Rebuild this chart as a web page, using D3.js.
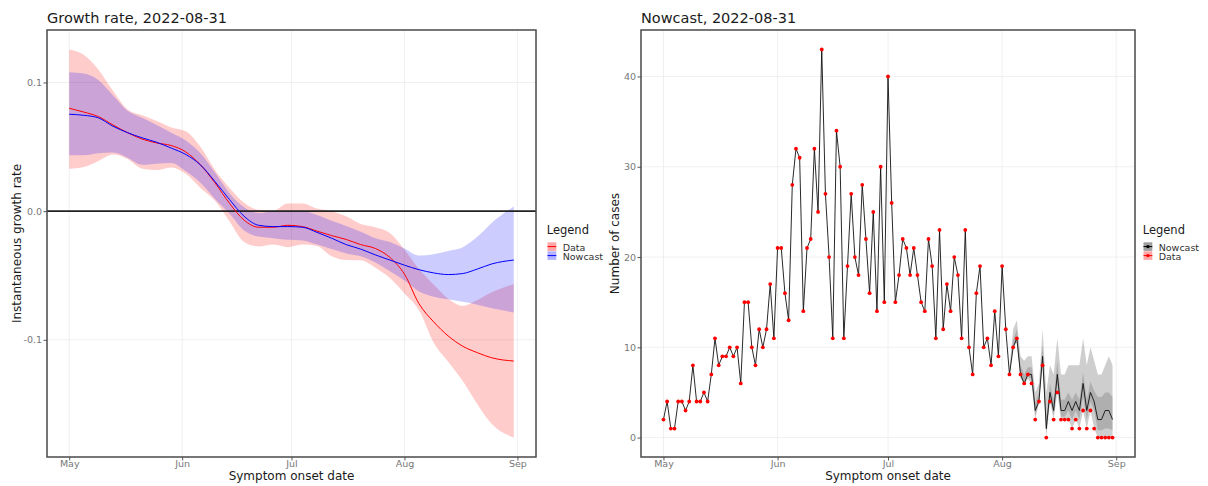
<!DOCTYPE html>
<html>
<head>
<meta charset="utf-8">
<script src="https://cdn.jsdelivr.net/npm/d3@7"></script>
<style>
  body { margin: 0; background: #ffffff; }
  svg { display: block; font-family: "DejaVu Sans", sans-serif; }
</style>
</head>
<body>
<svg id="chart" width="1208" height="486"></svg>
<script>
// ---------- growth rate: smoothed estimates at knot dates ----------
const growthDates = ["2022-05-01","2022-05-05","2022-05-09","2022-05-13","2022-05-17","2022-05-21",
  "2022-05-25","2022-05-29","2022-06-02","2022-06-06","2022-06-10","2022-06-14","2022-06-18",
  "2022-06-22","2022-06-26","2022-06-30","2022-07-04","2022-07-08","2022-07-12","2022-07-16",
  "2022-07-20","2022-07-24","2022-07-28","2022-08-01","2022-08-05","2022-08-09","2022-08-13",
  "2022-08-17","2022-08-21","2022-08-25","2022-08-31"];
const growthData = [0.080,0.077,0.0735,0.067,0.061,0.056,0.053,0.051,0.046,0.036,0.022,0.006,-0.007,
  -0.0125,-0.0125,-0.011,-0.012,-0.0155,-0.019,-0.022,-0.026,-0.029,-0.036,-0.049,-0.072,-0.086,
  -0.097,-0.105,-0.110,-0.114,-0.1165];
const growthDataUpper = [0.1257,0.1215,0.110,0.0935,0.079,0.0745,0.070,0.065,0.062,0.050,0.032,0.018,
  0.0065,0.001,0.0005,0.006,0.006,0.002,0.0,-0.004,-0.010,-0.0125,-0.017,-0.030,-0.045,-0.057,
  -0.068,-0.0735,-0.069,-0.063,-0.0566];
const growthDataLower = [0.033,0.0343,0.039,0.044,0.0405,0.033,0.032,0.034,0.029,0.018,0.008,-0.008,
  -0.024,-0.0275,-0.026,-0.028,-0.026,-0.027,-0.035,-0.038,-0.0382,-0.044,-0.052,-0.064,-0.077,
  -0.102,-0.117,-0.132,-0.150,-0.1655,-0.176];
const growthNowcast = [0.0753,0.0745,0.0725,0.066,0.061,0.057,0.0535,0.049,0.044,0.036,0.023,0.009,
  -0.004,-0.011,-0.012,-0.012,-0.0125,-0.0165,-0.021,-0.026,-0.0295,-0.034,-0.038,-0.042,-0.0455,
  -0.048,-0.0493,-0.0485,-0.045,-0.041,-0.038];
const growthNowcastUpper = [0.108,0.107,0.102,0.090,0.078,0.0725,0.067,0.061,0.055,0.045,0.030,0.014,
  0.003,-0.0015,0,0,0,-0.003,-0.0075,-0.0115,-0.016,-0.021,-0.024,-0.029,-0.0345,-0.0335,-0.031,
  -0.028,-0.020,-0.009,0.0036];
const growthNowcastLower = [0.0434,0.0434,0.045,0.0455,0.0415,0.036,0.0368,0.0374,0.031,0.022,0.0095,
  -0.002,-0.015,-0.0198,-0.021,-0.0223,-0.0228,-0.026,-0.0295,-0.033,-0.035,-0.040,-0.0468,-0.054,
  -0.0625,-0.0665,-0.0685,-0.0705,-0.0727,-0.0755,-0.0787];

// ---------- daily case counts by symptom onset, 2022-05-01 .. 2022-08-31 ----------
const caseStart = "2022-05-01";
const casesMay = [2,4,1,1,4,4,3,4,8,4,4,5,4,7,11,8,9,9,10,9,10,6,15,15,10,8,12,10,12,17,11];
const casesJun = [21,21,16,13,28,32,31,14,21,22,32,25,43,27,20,11,34,30,11,19,27,20,18,28,22,16,25,14,30,15];
const casesJul = [40,26,15,18,22,21,18,21,18,15,14,22,19,11,23,12,17,14,20,18,11,23,10,7,16,19,10,11,8,14,9];
const casesAug = [19,12,7,10,11,7,6,7,6,2,4,8,0,4,2,5,2,2,2,1,2,1,3,1,3,1,0,0,0,0,0];

// nowcast (corrected counts) for the recent days, from 2022-08-03
const nowcastStart = "2022-08-03";
const nowcastMedian = [7,10,11,7,6,7,7,3,4,9,1,5,3,7,3,3,4,3,4,3,6,3,5,4,2,2,3,3,2];
const nowcastUpper95 = [7.8,12,13,9,8.5,9,9,5,6,12,5,8,7,11,7,7,8,8,8,8,11,8,10,8.5,7,7,8,9,8];
const nowcastLower95 = [7,10,10.5,6.5,6,6.5,6,2,3.8,8,0,4,2,5,2,2,2,1,2,1,3,1,3,1,0,0,0,0,0];
const nowcastUpper50 = [7.3,10.8,12,8,7,7.8,7.8,3.8,5,10.2,2.2,6,4.2,8.5,4.2,4.2,5,4.2,5,4.2,7.2,4.2,6.2,5.2,4.5,4.5,5,5,4.5];
const nowcastLower50 = [7,10,10.8,6.8,6,6.8,6.5,2.5,4,8.5,0.5,4.3,2.5,6,2.3,2.3,3,2,3,2,4.5,2,4,3,0.8,0.8,1,1,0.8];

// ---------- axis ticks ----------
const monthTicks = ["2022-05-01","2022-06-01","2022-07-01","2022-08-01","2022-09-01"];
const monthLabels = ["May","Jun","Jul","Aug","Sep"];
const growthTicks = [-0.1, 0, 0.1];
const growthTickLabels = ["-0.1","0.0","0.1"];
const caseTicks = [0, 10, 20, 30, 40];
const caseTickLabels = ["0","10","20","30","40"];

// ---------- setup ----------
const parse = d3.utcParse("%Y-%m-%d");
const svg = d3.select("#chart");
const FONT = "DejaVu Sans, sans-serif";
const monthDates = monthTicks.map(parse);

const panelL = { x0: 47, x1: 536, y0: 30, y1: 457 };
const panelR = { x0: 641, x1: 1135, y0: 30, y1: 457 };

function expand(lo, hi) {
  const pad = (hi - lo) * 0.05;
  return [lo - pad, hi + pad];
}

const allCases = casesMay.concat(casesJun, casesJul, casesAug);
const day0 = parse(caseStart);
const caseRows = allCases.map((v, i) => ({ date: d3.utcDay.offset(day0, i), value: v }));
const tExtent = d3.extent(caseRows, d => +d.date);
const tDomain = expand(tExtent[0], tExtent[1]).map(t => new Date(t));

function drawGrid(g, p, x, y, yTicks) {
  g.append("g").selectAll("line").data(monthDates).join("line")
    .attr("x1", d => x(d)).attr("x2", d => x(d))
    .attr("y1", p.y0).attr("y2", p.y1)
    .attr("stroke", "#ececec").attr("stroke-width", 0.8);
  g.append("g").selectAll("line").data(yTicks).join("line")
    .attr("x1", p.x0).attr("x2", p.x1)
    .attr("y1", d => y(d)).attr("y2", d => y(d))
    .attr("stroke", "#ececec").attr("stroke-width", 0.8);
}

function drawAxes(g, p, x, y, yTicks, yLabels) {
  const ax = g.append("g").attr("transform", `translate(0,${p.y1})`)
    .call(d3.axisBottom(x).tickValues(monthDates)
      .tickFormat((d, i) => monthLabels[i]).tickSize(3.5).tickPadding(0));
  const ay = g.append("g").attr("transform", `translate(${p.x0},0)`)
    .call(d3.axisLeft(y).tickValues(yTicks)
      .tickFormat((d, i) => yLabels[i]).tickSize(3.5).tickPadding(1.5));
  [ax, ay].forEach(a => {
    a.attr("font-family", FONT).attr("font-size", 9.5);
    a.select(".domain").remove();
    a.selectAll(".tick line").attr("stroke", "#444").attr("stroke-width", 0.9);
    a.selectAll(".tick text").attr("fill", "#777");
  });
  // panel border
  g.append("rect")
    .attr("x", p.x0).attr("y", p.y0)
    .attr("width", p.x1 - p.x0).attr("height", p.y1 - p.y0)
    .attr("fill", "none").attr("stroke", "#4a4a4a").attr("stroke-width", 1.5);
}

function drawTitles(g, p, title, yTitle, yTitleX) {
  g.append("text").attr("x", p.x0).attr("y", 23)
    .attr("font-family", FONT).attr("font-size", 14.5).attr("fill", "#1a1a1a")
    .text(title);
  g.append("text").attr("x", (p.x0 + p.x1) / 2).attr("y", 480)
    .attr("text-anchor", "middle")
    .attr("font-family", FONT).attr("font-size", 12).attr("fill", "#1a1a1a")
    .text("Symptom onset date");
  g.append("text")
    .attr("transform", `translate(${yTitleX},${(p.y0 + p.y1) / 2}) rotate(-90)`)
    .attr("text-anchor", "middle")
    .attr("font-family", FONT).attr("font-size", 12).attr("fill", "#1a1a1a")
    .text(yTitle);
}

function drawLegend(g, lx, items) {
  g.append("text").attr("x", lx).attr("y", 234.3)
    .attr("font-family", FONT).attr("font-size", 11.5).attr("fill", "#1a1a1a")
    .text("Legend");
  items.forEach((it, i) => {
    const ky = 242.3 + i * 9;
    g.append("rect").attr("x", lx + 0.8).attr("y", ky).attr("width", 8.8).attr("height", 8.6)
      .attr("fill", it.fill);
    g.append("line").attr("x1", lx + 0.8).attr("x2", lx + 9.6)
      .attr("y1", ky + 4.3).attr("y2", ky + 4.3)
      .attr("stroke", it.stroke).attr("stroke-width", 1);
    if (it.point) {
      g.append("circle").attr("cx", lx + 5.2).attr("cy", ky + 4.3).attr("r", 1.7)
        .attr("fill", it.stroke);
    }
    g.append("text").attr("x", lx + 16).attr("y", ky + 8.3)
      .attr("font-family", FONT).attr("font-size", 9.5).attr("fill", "#333")
      .text(it.label);
  });
}

// ================= left panel: growth rate =================
{
  const p = panelL;
  const g = svg.append("g");
  const x = d3.scaleUtc().domain(tDomain).range([p.x0, p.x1]);
  const lo = d3.min(growthDataLower.concat(growthNowcastLower));
  const hi = d3.max(growthDataUpper.concat(growthNowcastUpper));
  const y = d3.scaleLinear().domain(expand(lo, hi)).range([p.y1, p.y0]);

  const rows = growthDates.map((d, i) => ({
    date: parse(d),
    data: growthData[i], dataLo: growthDataLower[i], dataHi: growthDataUpper[i],
    now: growthNowcast[i], nowLo: growthNowcastLower[i], nowHi: growthNowcastUpper[i]
  }));

  drawGrid(g, p, x, y, growthTicks);

  const band = (loKey, hiKey) => d3.area()
    .x(d => x(d.date)).y0(d => y(d[loKey])).y1(d => y(d[hiKey]))
    .curve(d3.curveMonotoneX);
  const line = key => d3.line().x(d => x(d.date)).y(d => y(d[key])).curve(d3.curveMonotoneX);

  g.append("path").datum(rows).attr("d", band("dataLo", "dataHi"))
    .attr("fill", "#ff0000").attr("fill-opacity", 0.2);
  g.append("path").datum(rows).attr("d", band("nowLo", "nowHi"))
    .attr("fill", "#0000ff").attr("fill-opacity", 0.2);

  // zero reference line
  g.append("line").attr("x1", p.x0).attr("x2", p.x1)
    .attr("y1", y(0)).attr("y2", y(0))
    .attr("stroke", "#222").attr("stroke-width", 1.7);

  g.append("path").datum(rows).attr("d", line("data"))
    .attr("fill", "none").attr("stroke", "#ff0000").attr("stroke-width", 1);
  g.append("path").datum(rows).attr("d", line("now"))
    .attr("fill", "none").attr("stroke", "#0000ff").attr("stroke-width", 1);

  drawAxes(g, p, x, y, growthTicks, growthTickLabels);
  drawTitles(g, p, "Growth rate, 2022-08-31", "Instantaneous growth rate", 21);
  drawLegend(g, 546.7, [
    { label: "Data", fill: "rgba(255,0,0,0.35)", stroke: "#ff0000" },
    { label: "Nowcast", fill: "rgba(0,0,255,0.3)", stroke: "#0000ff" }
  ]);
}

// ================= right panel: nowcast of daily cases =================
{
  const p = panelR;
  const g = svg.append("g");
  const x = d3.scaleUtc().domain(tDomain).range([p.x0, p.x1]);
  const y = d3.scaleLinear().domain(expand(0, d3.max(allCases))).range([p.y1, p.y0]);

  const nStart = parse(nowcastStart);
  const nOffset = d3.utcDay.count(day0, nStart);
  const nowRows = nowcastMedian.map((v, i) => ({
    date: d3.utcDay.offset(nStart, i), value: v,
    lo95: nowcastLower95[i], hi95: nowcastUpper95[i],
    lo50: nowcastLower50[i], hi50: nowcastUpper50[i]
  }));
  // nowcast line: observed counts until the nowcast window, corrected counts after
  const nowLine = caseRows.slice(0, nOffset).concat(nowRows);

  drawGrid(g, p, x, y, caseTicks);

  const band = (loKey, hiKey) => d3.area()
    .x(d => x(d.date)).y0(d => y(d[loKey])).y1(d => y(d[hiKey]));
  g.append("path").datum(nowRows).attr("d", band("lo95", "hi95"))
    .attr("fill", "#7f7f7f").attr("fill-opacity", 0.38);
  g.append("path").datum(nowRows).attr("d", band("lo50", "hi50"))
    .attr("fill", "#7f7f7f").attr("fill-opacity", 0.38);

  g.append("path").datum(nowLine)
    .attr("d", d3.line().x(d => x(d.date)).y(d => y(d.value)))
    .attr("fill", "none").attr("stroke", "#111").attr("stroke-width", 0.9);

  g.append("g").selectAll("circle").data(caseRows).join("circle")
    .attr("cx", d => x(d.date)).attr("cy", d => y(d.value)).attr("r", 1.9)
    .attr("fill", "#ff0000");

  drawAxes(g, p, x, y, caseTicks, caseTickLabels);
  drawTitles(g, p, "Nowcast, 2022-08-31", "Number of cases", 619);
  drawLegend(g, 1142.7, [
    { label: "Nowcast", fill: "rgba(127,127,127,0.75)", stroke: "#000", point: true },
    { label: "Data", fill: "rgba(255,0,0,0.35)", stroke: "#ff0000", point: true }
  ]);
}
</script>
</body>
</html>
